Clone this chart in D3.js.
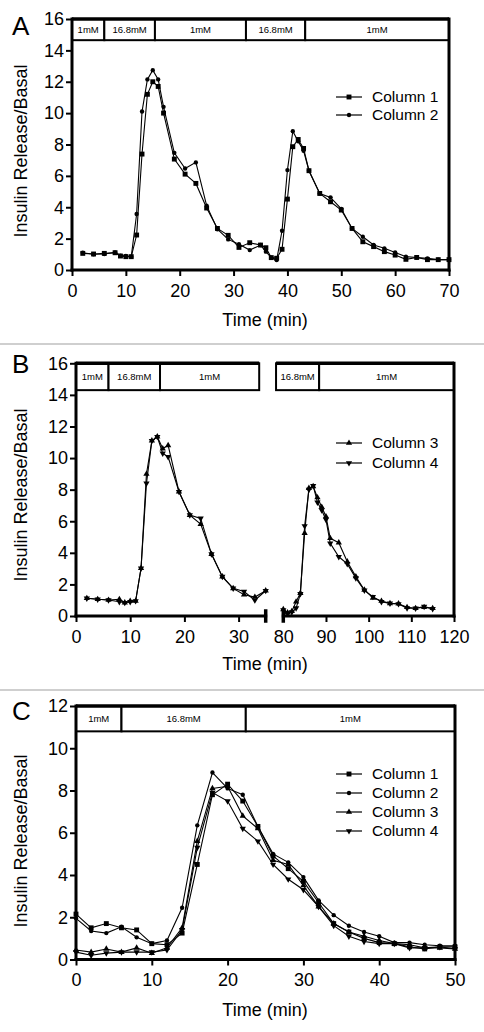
<!DOCTYPE html>
<html><head><meta charset="utf-8">
<script src="https://cdn.jsdelivr.net/npm/d3@7/dist/d3.min.js"></script>
<style>
body{margin:0;background:#fff;}
svg{display:block;font-family:"Liberation Sans",Arial,Helvetica,sans-serif;}
</style></head><body>
<svg id="chart" width="484" height="1032"></svg>
<script>
// ---------- Panel A data ----------
const timeA = [2,4,6,8,9,10,11,12,13,14,15,16,17,19,21,23,25,27,29,31,33,35,36,37,38,39,40,41,42,43,44,46,48,50,52,54,56,58,60,62,64,66,68,70];
const col1A = [1.06,1.02,1.06,1.1,0.89,0.85,0.85,2.23,7.39,11.2,12.0,11.7,10.0,7.07,6.11,5.52,3.95,2.65,2.21,1.44,1.74,1.59,1.42,0.79,0.75,1.32,4.52,7.86,8.32,7.75,6.33,4.88,4.35,3.82,2.65,1.8,1.49,1.17,0.95,0.68,0.8,0.66,0.66,0.66];
const col2A = [1.1,1.0,1.02,1.12,0.92,0.9,0.85,3.57,10.1,12.15,12.74,12.15,10.4,7.47,6.47,6.86,4.1,2.6,1.95,1.64,1.27,1.59,1.17,0.79,0.64,2.5,6.37,8.85,8.2,7.6,6.33,4.88,4.63,3.9,2.65,2.12,1.6,1.38,1.12,0.85,0.8,0.74,0.66,0.66];
const boxesA = [[0,6,"1mM"],[6,15.4,"16.8mM"],[15.4,32.3,"1mM"],[32.3,43.3,"16.8mM"],[43.3,70,"1mM"]];
const xTicksA = [0,10,20,30,40,50,60,70];
const yTicksA = [0,2,4,6,8,10,12,14,16];

// ---------- Panel B data ----------
const timeB1 = [2,4,6,8,9,10,11,12,13,14,15,16,17,19,21,23,25,27,29,31,33,35];
const col3B1 = [1.12,1.06,1.01,1.06,0.84,0.95,0.95,3.02,8.99,11.1,11.35,10.6,10.8,7.87,6.39,5.82,3.92,2.49,1.75,1.35,1.2,1.6];
const col4B1 = [1.12,1.06,1.01,0.9,0.84,0.9,0.95,3.02,8.4,11.1,11.35,10.3,10.08,7.87,6.39,6.18,3.92,2.49,1.75,1.55,1.0,1.6];
const timeB2 = [80,81,82,83,84,85,86,87,88,89,90,91,93,95,97,99,101,103,105,107,109,111,113,115];
const col3B2 = [0.42,0.21,0.3,0.9,1.45,5.25,8.1,8.2,7.5,6.9,6.3,4.92,4.64,3.44,2.5,1.65,1.15,0.95,0.8,0.78,0.55,0.49,0.55,0.49];
const col4B2 = [0.38,0.17,0.25,0.5,1.4,5.7,8.0,8.25,7.2,6.7,6.1,4.6,3.75,3.3,2.4,1.62,1.22,0.9,0.8,0.76,0.5,0.49,0.59,0.45];
const boxesB1 = [[0,6,"1mM"],[6,15.5,"16.8mM"],[15.5,33.8,"1mM"]];
const boxesB2 = [[78.3,88.4,"16.8mM"],[88.4,120,"1mM"]];
const xTicksB1 = [0,10,20,30];
const xTicksB2 = [80,90,100,110,120];
const yTicksB = [0,2,4,6,8,10,12,14,16];

// ---------- Panel C data ----------
const timeC = [0,2,4,6,8,10,12,14,16,18,20,22,24,26,28,30,32,34,36,38,40,42,44,46,48,50];
const col1C = [2.15,1.5,1.7,1.5,1.4,0.75,0.7,1.25,4.5,7.8,8.3,7.5,6.3,4.9,4.3,3.7,2.7,1.7,1.3,1.0,0.8,0.75,0.6,0.5,0.6,0.6];
const col2C = [1.95,1.35,1.25,1.55,1.05,0.75,0.9,2.45,6.35,8.85,8.1,7.8,6.3,5.0,4.6,3.9,2.8,2.1,1.6,1.3,1.1,0.8,0.8,0.7,0.65,0.65];
const col3C = [0.45,0.35,0.5,0.35,0.55,0.3,0.55,1.5,5.6,8.1,8.2,6.8,6.2,4.7,4.5,3.5,2.5,1.7,1.3,1.1,0.9,0.75,0.7,0.55,0.55,0.5];
const col4C = [0.35,0.2,0.3,0.35,0.35,0.35,0.45,1.4,5.3,7.9,7.5,6.2,5.6,4.5,3.8,3.3,2.5,1.6,1.1,0.85,0.75,0.75,0.55,0.55,0.6,0.5];
const boxesC = [[0,6,"1mM"],[6,22.4,"16.8mM"],[22.4,50,"1mM"]];
const xTicksC = [0,10,20,30,40,50];
const yTicksC = [0,2,4,6,8,10,12];

const seriesNames = ["Column 1","Column 2","Column 3","Column 4"];

// ---------- drawing ----------
const svg = d3.select("#chart");
const symTypes = {
  sq: {type: d3.symbolSquare, size: 24, rot: 0},
  ci: {type: d3.symbolCircle, size: 15, rot: 0},
  up: {type: d3.symbolTriangle, size: 17, rot: 0},
  dn: {type: d3.symbolTriangle, size: 17, rot: 180}
};

function drawSymbol(g, sym, cx, cy) {
  const s = symTypes[sym];
  g.append("path")
    .attr("d", d3.symbol().type(s.type).size(s.size)())
    .attr("transform", `translate(${cx},${cy}) rotate(${s.rot})`)
    .attr("fill", "#000");
}

function drawSeries(g, x, y, times, vals, sym) {
  const pts = times.map((t,i)=>[t, vals[i]]);
  g.append("path").datum(pts)
    .attr("d", d3.line().x(d=>x(d[0])).y(d=>y(d[1])))
    .attr("fill","none").attr("stroke","#000").attr("stroke-width",1.1);
  pts.forEach(d => drawSymbol(g, sym, x(d[0]), y(d[1])));
}

function styleAxis(ax) {
  ax.select(".domain").remove();
  ax.selectAll(".tick line").attr("stroke","#000").attr("stroke-width",2);
  ax.selectAll(".tick text").attr("font-size",18).attr("fill","#000")
    .attr("font-family","'Liberation Sans',Arial,sans-serif");
}

function drawBoxes(g, x, y, boxes, vTop, vBot) {
  boxes.forEach(b => {
    const x0 = x(b[0]), x1 = x(b[1]);
    g.append("rect").attr("x",x0).attr("y",y(vTop)).attr("width",x1-x0).attr("height",y(vBot)-y(vTop))
      .attr("fill","#fff").attr("stroke","#000").attr("stroke-width",2);
    g.append("text").attr("x",(x0+x1)/2).attr("y",(y(vTop)+y(vBot))/2)
      .attr("dy","0.35em").attr("text-anchor","middle").attr("font-size",9.5).text(b[2]);
  });
  g.append("line").attr("x1",x(boxes[0][0])).attr("x2",x(boxes[boxes.length-1][1]))
    .attr("y1",y(vTop)).attr("y2",y(vTop)).attr("stroke","#000").attr("stroke-width",3.5);
}

function thickLine(g,x1,y1,x2,y2,w){
  g.append("line").attr("x1",x1).attr("y1",y1).attr("x2",x2).attr("y2",y2)
    .attr("stroke","#000").attr("stroke-width",w||3).attr("stroke-linecap","square");
}

function legend(g, entries, y0, dy) {
  entries.forEach((e,i) => {
    const yy = y0 + i*dy;
    g.append("line").attr("x1",336).attr("x2",362).attr("y1",yy).attr("y2",yy)
      .attr("stroke","#000").attr("stroke-width",1.2);
    drawSymbol(g, e.sym, 349, yy);
    g.append("text").attr("x",372).attr("y",yy).attr("dy","0.35em")
      .attr("font-size",15.5).text(e.name);
  });
}

function titles(g, letter, letterY, yCenter, xLabelY) {
  g.append("text").attr("x",12).attr("y",letterY).attr("font-size",26).text(letter);
  g.append("text").attr("transform",`translate(27,${yCenter}) rotate(-90)`)
    .attr("text-anchor","middle").attr("font-size",18).text("Insulin Release/Basal");
  g.append("text").attr("x",265).attr("y",xLabelY).attr("text-anchor","middle")
    .attr("font-size",18).text("Time (min)");
}

// separators
[344, 690].forEach(yy => svg.append("line").attr("x1",0).attr("x2",484).attr("y1",yy).attr("y2",yy)
  .attr("stroke","#cfcfcf").attr("stroke-width",2));

// ===== Panel A =====
{
  const g = svg.append("g");
  const x = d3.scaleLinear([0,70],[72,449]);
  const y = d3.scaleLinear([0,16],[270,19]);
  titles(g, "A", 35, 151, 326);
  const ay = g.append("g").attr("transform","translate(72,0)")
    .call(d3.axisLeft(y).tickValues(yTicksA).tickSize(6).tickPadding(2).tickSizeOuter(0));
  styleAxis(ay);
  const ax = g.append("g").attr("transform","translate(0,270)")
    .call(d3.axisBottom(x).tickValues(xTicksA).tickSize(6).tickPadding(8).tickSizeOuter(0));
  styleAxis(ax);
  drawBoxes(g, x, y, boxesA, 16, 14.65);
  thickLine(g, 72, y(16), 72, 270);
  thickLine(g, 72, 270, 449, 270);
  thickLine(g, 449, y(16), 449, 270);
  drawSeries(g, x, y, timeA, col2A, "ci");
  drawSeries(g, x, y, timeA, col1A, "sq");
  legend(g, [{name:seriesNames[0],sym:"sq"},{name:seriesNames[1],sym:"ci"}], 97, 18);
}

// ===== Panel B =====
{
  const g = svg.append("g");
  const x1 = d3.scaleLinear([0,35],[76,265.7]);
  const x2 = d3.scaleLinear([80,120],[283.3,454]);
  const y = d3.scaleLinear([0,16],[616,363.3]);
  titles(g, "B", 373, 495, 670);
  const ay = g.append("g").attr("transform","translate(76,0)")
    .call(d3.axisLeft(y).tickValues(yTicksB).tickSize(6).tickPadding(2).tickSizeOuter(0));
  styleAxis(ay);
  const ax1 = g.append("g").attr("transform","translate(0,616)")
    .call(d3.axisBottom(x1).tickValues(xTicksB1).tickSize(6).tickPadding(8).tickSizeOuter(0));
  styleAxis(ax1);
  const ax2 = g.append("g").attr("transform","translate(0,616)")
    .call(d3.axisBottom(x2).tickValues(xTicksB2).tickSize(6).tickPadding(8).tickSizeOuter(0));
  styleAxis(ax2);
  drawBoxes(g, x1, y, boxesB1, 16, 14.3);
  drawBoxes(g, x2, y, boxesB2, 16, 14.3);
  thickLine(g, 76, y(16), 76, 616);
  thickLine(g, 76, 616, x1(35), 616);
  thickLine(g, x2(80), 616, 454, 616);
  thickLine(g, 454, y(16), 454, 616);
  thickLine(g, x1(35), 611, x1(35), 621, 3.5);
  thickLine(g, x2(80), 611, x2(80), 621, 3.5);
  drawSeries(g, x1, y, timeB1, col4B1, "dn");
  drawSeries(g, x1, y, timeB1, col3B1, "up");
  drawSeries(g, x2, y, timeB2, col4B2, "dn");
  drawSeries(g, x2, y, timeB2, col3B2, "up");
  legend(g, [{name:seriesNames[2],sym:"up"},{name:seriesNames[3],sym:"dn"}], 443, 20);
}

// ===== Panel C =====
{
  const g = svg.append("g");
  const x = d3.scaleLinear([0,50],[76,455]);
  const y = d3.scaleLinear([0,12],[959.5,706]);
  titles(g, "C", 720, 841, 1016);
  const ay = g.append("g").attr("transform","translate(76,0)")
    .call(d3.axisLeft(y).tickValues(yTicksC).tickSize(6).tickPadding(2).tickSizeOuter(0));
  styleAxis(ay);
  const ax = g.append("g").attr("transform","translate(0,959.5)")
    .call(d3.axisBottom(x).tickValues(xTicksC).tickSize(6).tickPadding(8).tickSizeOuter(0));
  styleAxis(ax);
  drawBoxes(g, x, y, boxesC, 12, 10.8);
  thickLine(g, 76, y(12), 76, 959.5);
  thickLine(g, 76, 959.5, 455, 959.5);
  thickLine(g, 455, y(12), 455, 959.5);
  drawSeries(g, x, y, timeC, col4C, "dn");
  drawSeries(g, x, y, timeC, col3C, "up");
  drawSeries(g, x, y, timeC, col2C, "ci");
  drawSeries(g, x, y, timeC, col1C, "sq");
  legend(g, [{name:seriesNames[0],sym:"sq"},{name:seriesNames[1],sym:"ci"},
             {name:seriesNames[2],sym:"up"},{name:seriesNames[3],sym:"dn"}], 774, 19);
}
</script>
</body></html>
